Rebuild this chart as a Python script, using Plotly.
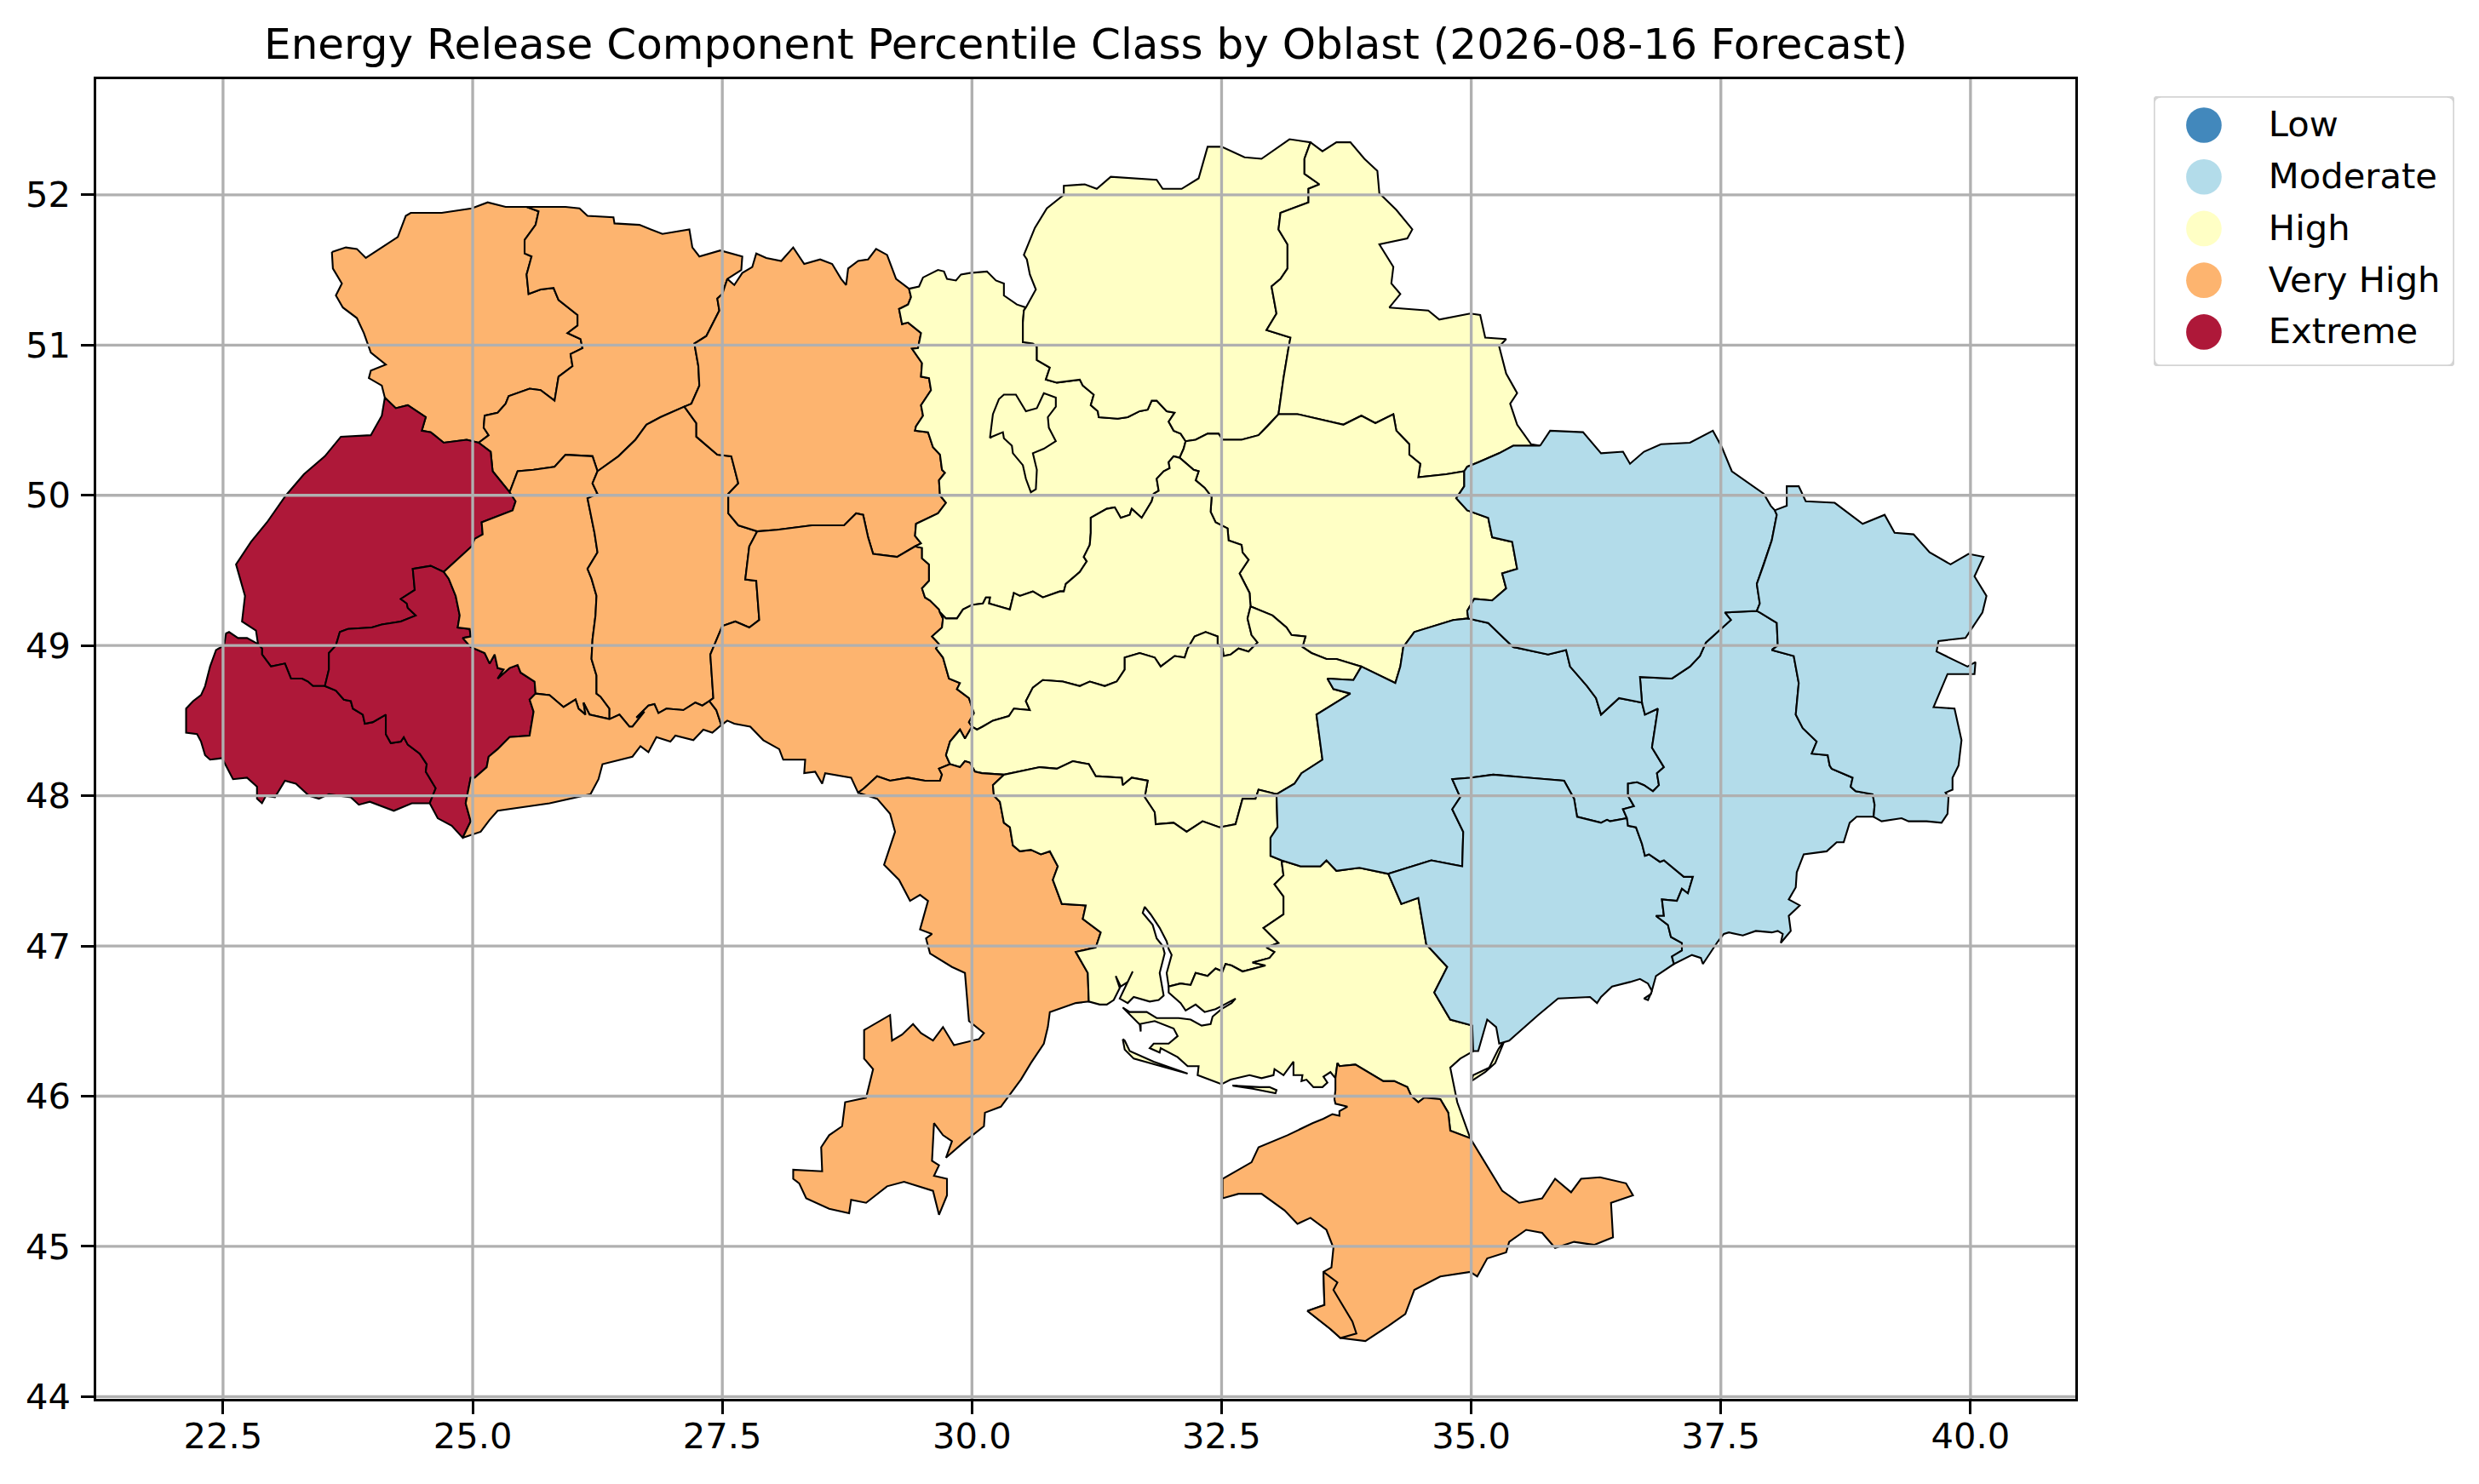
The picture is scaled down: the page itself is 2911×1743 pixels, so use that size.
#!/usr/bin/env python3
"""
Choropleth of Energy Release Component percentile class by Ukrainian oblast.
Boundaries are read off the source picture, as shared lon/lat arcs.
"""

import plotly.graph_objects as go

title = "Energy Release Component Percentile Class by Oblast (2026-08-16 Forecast)"
classes = ["Low", "Moderate", "High", "Very High", "Extreme"]
class_colors = ["#4288bc", "#b3dcea", "#ffffc5", "#fdb46f", "#ae1839"]
x_ticks = [22.5, 25.0, 27.5, 30.0, 32.5, 35.0, 37.5, 40.0]
x_labels = ["22.5", "25.0", "27.5", "30.0", "32.5", "35.0", "37.5", "40.0"]
y_ticks = [44, 45, 46, 47, 48, 49, 50, 51, 52]
y_labels = ["44", "45", "46", "47", "48", "49", "50", "51", "52"]

# Boundary arcs (lon, lat)
volyn_n = [(23.59,51.62),(23.73,51.65),(23.84,51.64),(23.93,51.58),(24.09,51.65),(24.25,51.72),(24.33,51.86),(24.38,51.88),(24.69,51.88),(24.99,51.91),(25.15,51.95),(25.33,51.92),(25.54,51.92)]
volyn_rivne = [(25.54,51.92),(25.66,51.89),(25.63,51.80),(25.52,51.70),(25.52,51.61),(25.59,51.59),(25.54,51.47),(25.56,51.34),(25.68,51.37),(25.81,51.38),(25.86,51.30),(26.05,51.20),(26.05,51.13),(25.95,51.08),(26.08,51.04),(26.10,50.98),(25.98,50.94),(26.00,50.86),(25.86,50.79),(25.82,50.63),(25.68,50.70),(25.57,50.71),(25.36,50.66),(25.33,50.61),(25.25,50.55),(25.12,50.53),(25.11,50.45),(25.16,50.40),(25.06,50.35)]
volyn_lviv = [(25.06,50.35),(24.94,50.37),(24.71,50.35),(24.58,50.42),(24.49,50.43),(24.53,50.52),(24.35,50.60),(24.23,50.58),(24.12,50.65)]
volyn_w = [(24.12,50.65),(24.09,50.73),(23.96,50.78),(23.98,50.83),(24.13,50.87),(23.98,50.95),(23.91,51.08),(23.84,51.18),(23.70,51.25),(23.63,51.33),(23.69,51.41),(23.60,51.51),(23.59,51.62)]
rivne_n = [(25.54,51.92),(25.75,51.92),(25.93,51.92),(26.07,51.91),(26.15,51.86),(26.41,51.85),(26.42,51.81),(26.67,51.80),(26.90,51.74),(27.17,51.77),(27.20,51.65),(27.27,51.59),(27.48,51.63),(27.70,51.59),(27.69,51.50),(27.55,51.44)]
rivne_zhyt = [(27.55,51.44),(27.50,51.34),(27.45,51.31),(27.47,51.23),(27.34,51.06),(27.22,51.01),(27.26,50.86),(27.27,50.73),(27.19,50.61),(27.12,50.59)]
rivne_khm = [(26.25,50.16),(26.46,50.26),(26.63,50.37),(26.74,50.47),(26.88,50.52),(27.12,50.59)]
lviv_rivne = [(25.06,50.35),(25.18,50.29),(25.20,50.16),(25.37,50.02)]
tern_rivne = [(25.37,50.02),(25.45,50.16),(25.61,50.17),(25.82,50.19),(25.93,50.27),(26.20,50.26),(26.25,50.16)]
tern_lviv = [(25.37,50.02),(25.43,49.96),(25.40,49.90),(25.09,49.82),(25.10,49.74),(25.02,49.71),(24.99,49.66),(24.71,49.49)]
lviv_w = [(24.12,50.65),(24.09,50.53),(23.98,50.40),(23.68,50.39),(23.52,50.26),(23.31,50.14),(23.13,50.00),(22.94,49.82),(22.78,49.69),(22.63,49.54),(22.72,49.33),(22.69,49.16),(22.83,49.10),(22.85,49.01)]
lviv_zak = [(22.85,49.01),(22.89,48.98),(22.89,48.94),(22.98,48.86),(23.12,48.88),(23.18,48.78),(23.29,48.78),(23.35,48.76),(23.40,48.73),(23.52,48.73)]
lviv_ivano = [(24.71,49.49),(24.58,49.53),(24.40,49.51),(24.41,49.445),(24.42,49.37),(24.28,49.31),(24.34,49.28),(24.35,49.25),(24.43,49.20),(24.28,49.16),(24.09,49.14),(23.99,49.12),(23.75,49.11),(23.67,49.09),(23.63,49.00),(23.56,48.95),(23.56,48.84),(23.52,48.73)]
ivano_zak = [(23.52,48.73),(23.63,48.70),(23.71,48.64),(23.78,48.63),(23.80,48.58),(23.90,48.54),(23.92,48.48),(24.00,48.49),(24.13,48.54),(24.13,48.41),(24.18,48.35),(24.28,48.36),(24.31,48.39),(24.35,48.34),(24.47,48.28),(24.54,48.21),(24.53,48.16),(24.63,48.05),(24.57,47.95)]
zak_outer = [(22.85,49.01),(22.74,49.05),(22.65,49.05),(22.56,49.09),(22.53,49.08),(22.51,49.00),(22.43,48.97),(22.37,48.86),(22.32,48.73),(22.28,48.67),(22.20,48.63),(22.13,48.58),(22.13,48.42),(22.24,48.41),(22.28,48.36),(22.32,48.27),(22.37,48.24),(22.49,48.25),(22.60,48.11),(22.74,48.12),(22.84,48.06),(22.84,47.98),(22.89,47.95),(22.93,48.00),(23.02,47.99),(23.12,48.10),(23.23,48.08),(23.36,48.00),(23.46,47.98),(23.56,48.01),(23.78,47.99),(23.86,47.94),(23.97,47.96),(24.21,47.90),(24.39,47.95),(24.57,47.95)]
ivano_s = [(24.57,47.95),(24.65,47.85),(24.79,47.80),(24.90,47.72)]
ivano_chern = [(24.90,47.72),(24.98,47.83),(24.93,47.95),(24.98,48.12),(25.02,48.12),(25.14,48.19),(25.16,48.26),(25.25,48.31),(25.37,48.39),(25.57,48.40),(25.61,48.56),(25.57,48.64),(25.63,48.68)]
tern_ivano = [(24.71,49.49),(24.76,49.445),(24.83,49.33),(24.87,49.20),(24.85,49.12),(24.97,49.11),(24.98,49.06),(24.90,49.05),(24.98,48.99),(25.12,48.95),(25.17,48.88),(25.22,48.94),(25.25,48.85),(25.31,48.84),(25.25,48.78),(25.37,48.85),(25.45,48.87),(25.48,48.82),(25.62,48.76),(25.63,48.68)]
tern_chern = [(25.63,48.68),(25.77,48.67),(25.91,48.59),(26.03,48.64),(26.06,48.58),(26.13,48.54),(26.11,48.62),(26.17,48.54),(26.37,48.51)]
khm_chern = [(26.37,48.51),(26.47,48.54),(26.57,48.46),(26.60,48.46),(26.72,48.56),(26.64,48.52),(26.76,48.60),(26.82,48.61),(26.86,48.55),(26.94,48.58),(27.11,48.57),(27.23,48.62),(27.30,48.60),(27.37,48.63)]
chern_vinn = [(27.37,48.63),(27.44,48.57),(27.49,48.47)]
chern_s = [(27.49,48.47),(27.40,48.42),(27.31,48.44),(27.21,48.37),(27.03,48.40),(26.98,48.36),(26.84,48.39),(26.76,48.29),(26.68,48.33),(26.60,48.26),(26.30,48.21),(26.26,48.11),(26.18,48.01),(25.77,47.95),(25.25,47.90),(25.17,47.84),(25.08,47.76),(24.90,47.72)]
tern_khm = [(26.37,48.51),(26.37,48.58),(26.28,48.66),(26.24,48.68),(26.24,48.80),(26.19,48.91),(26.20,49.04),(26.23,49.20),(26.24,49.33),(26.19,49.445),(26.15,49.51),(26.25,49.62),(26.22,49.75),(26.15,49.98),(26.25,50.01),(26.20,50.08),(26.25,50.16)]
zhyt_khm = [(27.12,50.59),(27.24,50.48),(27.24,50.39),(27.45,50.27),(27.59,50.26),(27.66,50.08),(27.56,50.01),(27.56,49.88),(27.66,49.80),(27.85,49.76)]
khm_vinn = [(27.85,49.76),(27.77,49.66),(27.73,49.44),(27.84,49.43),(27.87,49.17),(27.77,49.12),(27.63,49.16),(27.50,49.13),(27.38,48.94),(27.41,48.65),(27.37,48.63)]
zhyt_n = [(27.55,51.44),(27.62,51.40),(27.70,51.48),(27.80,51.52),(27.84,51.61),(27.94,51.58),(28.09,51.56),(28.21,51.65),(28.32,51.54),(28.48,51.57),(28.60,51.54),(28.69,51.44),(28.74,51.40),(28.76,51.51),(28.86,51.56),(28.96,51.57),(29.04,51.64),(29.15,51.60),(29.24,51.44),(29.37,51.375)]
zhyt_kyiv = [(29.37,51.375),(29.39,51.32),(29.36,51.27),(29.27,51.24),(29.30,51.14),(29.36,51.15),(29.49,51.08),(29.46,50.98),(29.40,50.975),(29.50,50.88),(29.49,50.79),(29.57,50.78),(29.59,50.70),(29.49,50.60),(29.51,50.53),(29.44,50.46),(29.43,50.43),(29.56,50.42),(29.61,50.32),(29.68,50.27),(29.70,50.17),(29.73,50.15),(29.67,50.10),(29.68,50.00),(29.74,49.95),(29.66,49.88),(29.44,49.81),(29.43,49.73),(29.49,49.68),(29.43,49.66)]
zhyt_vinn = [(27.85,49.76),(28.05,49.77),(28.40,49.80),(28.72,49.80),(28.84,49.88),(28.91,49.87),(28.96,49.72),(29.01,49.61),(29.25,49.59),(29.43,49.66)]
kyiv_vinn = [(29.43,49.66),(29.50,49.65),(29.50,49.58),(29.57,49.54),(29.57,49.43),(29.50,49.38),(29.53,49.32),(29.58,49.30),(29.67,49.24),(29.68,49.22)]
vinn_cherk = [(29.68,49.22),(29.71,49.18),(29.70,49.12),(29.60,49.06),(29.67,49.01),(29.64,48.98),(29.71,48.92),(29.77,48.78),(29.88,48.75),(29.85,48.71),(29.97,48.65),(30.02,48.55),(29.97,48.49),(30.00,48.46)]
vinn_kirov = [(30.00,48.46),(29.93,48.38),(29.88,48.44),(29.78,48.36),(29.74,48.27),(29.78,48.21)]
vinn_odesa = [(28.86,48.02),(28.92,48.05),(29.05,48.13),(29.18,48.10),(29.36,48.12),(29.53,48.10),(29.68,48.10),(29.70,48.14),(29.67,48.18),(29.78,48.21)]
vinn_s = [(27.49,48.47),(27.55,48.50),(27.62,48.48),(27.78,48.46),(27.91,48.37),(28.07,48.31),(28.11,48.24),(28.33,48.24),(28.32,48.15),(28.43,48.16),(28.50,48.08),(28.53,48.15),(28.79,48.12),(28.86,48.02)]
kyiv_n = [(29.37,51.375),(29.47,51.39),(29.51,51.45),(29.60,51.48),(29.66,51.50),(29.72,51.49),(29.75,51.44),(29.84,51.43),(29.89,51.47),(29.98,51.48),(30.15,51.49),(30.24,51.43),(30.32,51.41),(30.32,51.33),(30.45,51.27),(30.54,51.25)]
kyiv_chern = [(30.54,51.25),(30.52,51.23),(30.51,51.15),(30.51,51.02),(30.61,51.01),(30.65,50.99),(30.65,50.90),(30.78,50.85),(30.74,50.77),(30.85,50.75),(31.08,50.77),(31.11,50.73),(31.22,50.67),(31.19,50.60),(31.26,50.56),(31.27,50.52),(31.46,50.51),(31.56,50.52),(31.68,50.56),(31.76,50.57),(31.80,50.63),(31.85,50.63),(31.95,50.56),(32.03,50.55),(31.97,50.49),(32.02,50.43),(32.09,50.41),(32.14,50.36)]
kyiv_polt = [(32.08,50.25),(32.12,50.31),(32.14,50.36)]
kyiv_cherk = [(29.68,49.22),(29.74,49.18),(29.85,49.18),(29.91,49.24),(30.00,49.27),(30.11,49.28),(30.14,49.32),(30.18,49.32),(30.17,49.28),(30.37,49.24),(30.38,49.24),(30.42,49.35),(30.48,49.33),(30.61,49.36),(30.71,49.32),(30.88,49.36),(30.92,49.36),(30.94,49.41),(31.08,49.49),(31.15,49.56),(31.12,49.59),(31.18,49.67),(31.19,49.75),(31.19,49.85),(31.35,49.91),(31.43,49.92),(31.49,49.85),(31.58,49.87),(31.60,49.91),(31.70,49.85),(31.80,49.96),(31.82,50.01),(31.87,50.03),(31.85,50.11),(31.92,50.16),(31.98,50.18),(31.97,50.22),(32.02,50.26),(32.08,50.25)]
kyiv_city = [(30.18,50.38),(30.21,50.54),(30.27,50.64),(30.32,50.67),(30.44,50.67),(30.54,50.56),(30.65,50.58),(30.72,50.68),(30.84,50.65),(30.84,50.59),(30.76,50.52),(30.77,50.45),(30.84,50.36),(30.79,50.34),(30.72,50.31),(30.61,50.28),(30.65,50.17),(30.64,50.04),(30.59,50.02),(30.54,50.11),(30.51,50.20),(30.41,50.28),(30.40,50.33),(30.32,50.38),(30.31,50.42),(30.20,50.39),(30.18,50.38)]
chern_out = [(30.54,51.25),(30.64,51.37),(30.58,51.47),(30.55,51.57),(30.52,51.60),(30.63,51.78),(30.75,51.91),(30.92,52.00),(30.92,52.06),(31.13,52.07),(31.25,52.04),(31.39,52.12),(31.85,52.10),(31.91,52.04),(32.10,52.04),(32.27,52.11),(32.36,52.32),(32.50,52.32),(32.73,52.25),(32.90,52.24),(33.18,52.37),(33.39,52.35)]
sumy_out = [(33.39,52.35),(33.51,52.29),(33.65,52.35),(33.79,52.35),(33.93,52.24),(34.06,52.16),(34.08,52.01),(34.25,51.90),(34.41,51.77),(34.36,51.71),(34.08,51.67),(34.22,51.52),(34.20,51.41),(34.29,51.34),(34.18,51.25),(34.57,51.23),(34.68,51.17),(34.99,51.21),(35.09,51.20),(35.14,51.05),(35.35,51.04),(35.28,50.99),(35.35,50.81),(35.46,50.68),(35.39,50.61),(35.46,50.47),(35.60,50.34),(35.69,50.33)]
sumy_chern = [(33.39,52.35),(33.33,52.24),(33.33,52.14),(33.48,52.07),(33.37,52.04),(33.37,51.95),(33.09,51.88),(33.07,51.77),(33.16,51.67),(33.16,51.51),(33.09,51.44),(33.00,51.39),(33.05,51.21),(32.95,51.10),(33.19,51.05),(33.17,50.98),(33.12,50.78),(33.07,50.54)]
chern_polt = [(32.14,50.36),(32.24,50.37),(32.36,50.41),(32.47,50.41),(32.51,50.37),(32.70,50.37),(32.87,50.40),(32.96,50.46),(33.07,50.54)]
sumy_polt = [(33.07,50.54),(33.26,50.54),(33.72,50.47),(33.90,50.53),(34.04,50.48),(34.22,50.54),(34.25,50.43),(34.38,50.34),(34.38,50.27),(34.49,50.21),(34.47,50.12),(34.75,50.14),(34.93,50.16)]
sumy_khar = [(34.93,50.16),(34.96,50.19),(35.07,50.22),(35.28,50.28),(35.42,50.33),(35.69,50.33)]
khar_out = [(35.69,50.33),(35.79,50.43),(36.12,50.42),(36.30,50.28),(36.52,50.29),(36.59,50.21),(36.73,50.29),(36.90,50.34),(37.19,50.35),(37.42,50.43),(37.51,50.32),(37.61,50.16),(37.93,50.01),(38.00,49.93),(38.04,49.90)]
lug_out = [(38.04,49.90),(38.16,49.93),(38.16,50.06),(38.28,50.06),(38.35,49.96),(38.64,49.95),(38.92,49.81),(39.14,49.87),(39.24,49.75),(39.43,49.74),(39.59,49.62),(39.80,49.54),(39.98,49.61),(40.13,49.59),(40.04,49.46),(40.16,49.33),(40.12,49.22),(39.95,49.05),(39.68,49.03),(39.66,48.96),(39.97,48.86),(40.05,48.89),(40.04,48.81),(39.77,48.81),(39.63,48.59),(39.84,48.58),(39.91,48.37),(39.88,48.20),(39.82,48.12),(39.82,48.04),(39.75,48.02),(39.78,47.99),(39.77,47.88),(39.71,47.82),(39.56,47.83),(39.38,47.83),(39.31,47.85),(39.11,47.83),(39.03,47.86)]
khar_lug = [(38.04,49.90),(38.06,49.87),(38.01,49.70),(37.93,49.54),(37.86,49.41),(37.89,49.28),(37.86,49.23)]
khar_don = [(36.71,48.62),(36.69,48.79),(37.01,48.78),(37.19,48.86),(37.29,48.93),(37.35,49.02),(37.60,49.17),(37.54,49.22),(37.86,49.23)]
khar_dnip = [(34.97,49.18),(35.17,49.15),(35.42,48.99),(35.77,48.94),(35.95,48.97),(35.99,48.86),(36.16,48.73),(36.25,48.65),(36.30,48.54),(36.37,48.58),(36.48,48.65),(36.71,48.62)]
polt_khar = [(34.93,50.16),(34.93,50.06),(34.85,49.98),(34.96,49.90),(35.17,49.85),(35.21,49.72),(35.41,49.69),(35.46,49.51),(35.31,49.48),(35.35,49.38),(35.21,49.30),(35.03,49.31),(34.96,49.23),(34.97,49.18)]
polt_dnip = [(34.97,49.18),(34.82,49.17),(34.43,49.09),(34.32,48.99),(34.29,48.86),(34.24,48.75),(33.90,48.86)]
polt_cherk = [(32.08,50.25),(32.22,50.17),(32.27,50.16),(32.24,50.10),(32.33,50.05),(32.40,49.99),(32.39,49.89),(32.44,49.82),(32.56,49.78),(32.57,49.70),(32.70,49.67),(32.71,49.62),(32.77,49.57),(32.68,49.48),(32.78,49.35),(32.79,49.26)]
polt_kirov = [(32.79,49.26),(33.01,49.20),(33.15,49.12),(33.20,49.07),(33.34,49.06),(33.31,48.99),(33.40,48.95),(33.55,48.91),(33.65,48.91),(33.90,48.86)]
cherk_kirov = [(32.79,49.26),(32.76,49.18),(32.80,49.07),(32.86,49.02),(32.77,48.96),(32.67,48.98),(32.59,48.94),(32.52,48.93),(32.51,48.98),(32.46,49.01),(32.46,49.06),(32.34,49.09),(32.23,49.06),(32.16,48.98),(32.13,48.92),(32.03,48.93),(31.89,48.86),(31.83,48.92),(31.68,48.95),(31.53,48.92),(31.53,48.84),(31.45,48.76),(31.33,48.73),(31.18,48.76),(31.08,48.73),(30.91,48.76),(30.71,48.77),(30.61,48.72),(30.54,48.63),(30.58,48.57),(30.42,48.58),(30.37,48.53),(30.21,48.50),(30.11,48.46),(30.05,48.44),(30.00,48.46)]
kirov_dnip = [(33.90,48.86),(33.82,48.77),(33.56,48.78),(33.62,48.71),(33.79,48.68),(33.45,48.54),(33.51,48.24),(33.30,48.15),(33.23,48.08),(33.05,48.01)]
kirov_myk = [(33.05,48.01),(32.87,48.04),(32.84,47.98),(32.71,47.98),(32.64,47.81),(32.48,47.79),(32.31,47.83),(32.15,47.76),(32.02,47.82),(31.84,47.81),(31.83,47.89),(31.73,47.99),(31.76,48.10),(31.60,48.12),(31.51,48.07),(31.50,48.12),(31.24,48.13),(31.17,48.21),(31.01,48.23),(30.85,48.18),(30.68,48.19),(30.32,48.14)]
odesa_kirov = [(29.78,48.21),(29.88,48.19),(29.93,48.23),(29.98,48.22),(30.03,48.16),(30.10,48.15),(30.32,48.14)]
odesa_myk = [(30.32,48.14),(30.21,48.07),(30.22,48.00),(30.28,47.96),(30.32,47.82),(30.38,47.79),(30.41,47.67),(30.48,47.63),(30.59,47.64),(30.69,47.61),(30.78,47.63),(30.86,47.53),(30.81,47.44),(30.90,47.28),(31.14,47.27),(31.11,47.18),(31.29,47.09),(31.24,46.99),(31.04,46.96),(31.16,46.82),(31.17,46.63)]
odesa_coast = [(31.17,46.63),(31.04,46.62),(30.78,46.56),(30.76,46.46),(30.72,46.35),(30.59,46.22),(30.49,46.11),(30.29,45.93),(30.13,45.89),(30.12,45.80),(29.93,45.70),(29.74,45.59),(29.80,45.70),(29.71,45.74),(29.62,45.82),(29.60,45.57),(29.67,45.54),(29.62,45.47),(29.75,45.45),(29.75,45.34),(29.67,45.21),(29.61,45.37),(29.32,45.43),(29.15,45.40),(28.94,45.29),(28.79,45.31),(28.77,45.22),(28.57,45.25),(28.34,45.32),(28.27,45.42),(28.21,45.45),(28.21,45.51),(28.50,45.50),(28.49,45.66),(28.57,45.74),(28.70,45.80),(28.73,45.96),(28.94,45.99),(29.01,46.18),(28.92,46.25),(28.92,46.44),(29.18,46.54),(29.20,46.37),(29.30,46.41),(29.41,46.48),(29.49,46.42),(29.61,46.37),(29.71,46.46),(29.82,46.34),(30.07,46.38),(30.12,46.42),(29.97,46.50),(29.95,46.66),(29.93,46.82),(29.80,46.86),(29.58,46.95),(29.54,47.05),(29.60,47.08),(29.48,47.11),(29.56,47.30),(29.48,47.34),(29.38,47.30),(29.27,47.44),(29.12,47.54),(29.23,47.76),(29.18,47.88),(29.05,47.98),(28.86,48.02)]
dnip_myk = [(33.05,48.01),(33.06,47.79),(32.99,47.72),(32.99,47.60),(33.10,47.57)]
myk_kher = [(33.10,47.57),(33.12,47.47),(33.03,47.41),(33.12,47.33),(33.12,47.21),(32.92,47.12),(33.07,47.02),(32.95,46.99),(33.03,46.96),(32.98,46.92),(32.81,46.89),(32.94,46.87),(32.71,46.83),(32.60,46.87),(32.54,46.88),(32.51,46.83),(32.44,46.85),(32.36,46.80),(32.24,46.82),(32.19,46.74),(32.09,46.75),(31.97,46.73)]
myk_coast = [(31.97,46.73),(31.95,46.82),(32.00,46.94),(31.97,46.98),(31.95,47.03),(31.88,47.12),(31.79,47.21),(31.73,47.26),(31.71,47.22),(31.81,47.14),(31.85,47.05),(31.91,47.00),(31.93,46.95),(31.88,46.82),(31.92,46.67),(31.87,46.64),(31.78,46.63),(31.62,46.66),(31.56,46.62),(31.48,46.65),(31.61,46.83),(31.56,46.76),(31.49,46.73),(31.44,46.80),(31.48,46.72),(31.42,46.64),(31.35,46.61),(31.28,46.61),(31.17,46.63)]
kher_coast = [(31.97,46.73),(31.97,46.69),(32.09,46.62),(32.14,46.57),(32.24,46.61),(32.33,46.56),(32.44,46.58),(32.50,46.60),(32.64,46.65),(32.60,46.62),(32.50,46.58),(32.41,46.53),(32.39,46.48),(32.30,46.47),(32.19,46.51),(32.07,46.52),(31.85,46.52),(31.75,46.56),(31.58,46.56),(31.51,46.59),(31.69,46.47),(31.69,46.43),(31.68,46.48),(31.83,46.50),(32.02,46.45),(32.06,46.40),(31.97,46.35),(31.82,46.35),(31.78,46.32),(31.88,46.29),(31.89,46.32),(32.06,46.26),(32.16,46.20),(32.27,46.20),(32.26,46.14),(32.50,46.08),(32.59,46.11),(32.78,46.14),(32.90,46.12),(33.02,46.14),(33.03,46.18),(33.12,46.14),(33.22,46.23),(33.22,46.14),(33.31,46.14),(33.30,46.10),(33.35,46.11),(33.42,46.06),(33.51,46.06),(33.56,46.09),(33.52,46.13),(33.59,46.16),(33.64,46.12),(33.65,46.18),(33.66,46.22)]
kher_crimea = [(33.66,46.22),(33.68,46.20),(33.84,46.21),(34.12,46.10),(34.23,46.10),(34.36,46.06),(34.40,46.00),(34.47,45.96),(34.53,45.99),(34.69,45.98),(34.77,45.89),(34.79,45.77),(34.99,45.72)]
kher_e = [(34.99,45.72),(34.86,45.96),(34.79,46.19),(34.89,46.25),(35.02,46.30)]
kher_arabat = [(35.00,46.10),(35.02,46.14),(35.18,46.19),(35.27,46.31),(35.34,46.38),(35.24,46.22),(35.14,46.16),(35.00,46.10)]
kher_tendra = [(31.51,46.38),(31.53,46.31),(31.62,46.25),(32.16,46.15),(31.82,46.23),(31.58,46.30),(31.53,46.37),(31.51,46.38)]
kher_dzharylhach = [(32.61,46.07),(32.81,46.06),(32.88,46.06),(32.98,46.06),(33.05,46.04),(33.04,46.02),(32.81,46.05),(32.61,46.07)]
crimea_coast = [(33.66,46.22),(33.65,46.18),(33.64,46.12),(33.64,46.04),(33.63,45.98),(33.64,45.95),(33.76,45.93),(33.68,45.90),(33.68,45.87),(33.61,45.88),(33.52,45.85),(33.41,45.82),(33.16,45.74),(32.87,45.66),(32.80,45.56),(32.51,45.45),(32.51,45.32),(32.67,45.35),(32.90,45.35),(33.13,45.24),(33.26,45.15),(33.39,45.19),(33.55,45.11),(33.62,44.99),(33.60,44.86),(33.52,44.83),(33.53,44.61),(33.36,44.57),(33.59,44.45),(33.69,44.39),(33.94,44.37),(34.17,44.47),(34.34,44.55),(34.43,44.71),(34.69,44.80),(34.99,44.83),(35.06,44.80),(35.16,44.92),(35.35,44.96),(35.38,45.03),(35.55,45.11),(35.71,45.09),(35.84,44.99),(36.03,45.03),(36.23,45.01),(36.42,45.06),(36.40,45.29),(36.62,45.34),(36.55,45.42),(36.29,45.46),(36.10,45.45),(36.00,45.36),(35.84,45.45),(35.71,45.32),(35.48,45.29),(35.31,45.37),(34.99,45.72)]
sevastopol = [(33.52,44.83),(33.66,44.76),(33.62,44.71),(33.72,44.60),(33.81,44.50),(33.85,44.42),(33.69,44.39),(33.59,44.45),(33.36,44.57),(33.53,44.61),(33.52,44.83)]
dnip_kher = [(33.10,47.57),(33.29,47.53),(33.49,47.53),(33.55,47.57),(33.65,47.50),(33.88,47.52),(34.17,47.48)]
dnip_zap = [(34.17,47.48),(34.60,47.57),(34.91,47.53),(34.92,47.76),(34.81,47.91),(34.89,47.99),(34.81,48.11),(34.99,48.12),(35.22,48.14),(35.57,48.12),(35.93,48.10),(36.03,47.98),(36.06,47.86),(36.30,47.82),(36.36,47.84),(36.39,47.83),(36.56,47.85)]
don_dnip = [(36.71,48.62),(36.74,48.54),(36.87,48.58),(36.81,48.32),(36.93,48.19),(36.86,48.15),(36.88,48.07),(36.82,48.03),(36.73,48.07),(36.66,48.09),(36.57,48.08),(36.57,48.00),(36.63,47.93),(36.52,47.91),(36.56,47.85)]
zap_kher = [(34.17,47.48),(34.30,47.28),(34.47,47.32),(34.55,47.01),(34.76,46.86),(34.63,46.69),(34.79,46.51),(35.01,46.47),(35.02,46.30)]
zap_coast = [(35.02,46.30),(35.07,46.30),(35.16,46.51),(35.25,46.46),(35.28,46.35),(35.38,46.37),(35.67,46.54),(35.87,46.65),(36.19,46.66),(36.26,46.62),(36.30,46.66),(36.41,46.73),(36.59,46.76),(36.69,46.78),(36.77,46.75),(36.81,46.70),(36.77,46.64),(36.73,46.65),(36.80,46.68),(36.85,46.80),(37.03,46.88)]
don_zap = [(36.56,47.85),(36.57,47.80),(36.65,47.79),(36.71,47.68),(36.74,47.60),(36.78,47.61),(36.89,47.56),(36.93,47.57),(37.13,47.46),(37.22,47.46),(37.17,47.35),(37.11,47.38),(37.06,47.30),(36.91,47.31),(36.93,47.20),(36.85,47.20),(36.97,47.14),(37.00,47.06),(37.11,47.02),(37.11,46.97),(37.01,46.93),(37.03,46.88)]
don_coast = [(37.03,46.88),(37.21,46.94),(37.30,46.92),(37.32,46.88),(37.47,47.03),(37.53,47.08),(37.58,47.09),(37.72,47.07),(37.85,47.10),(38.01,47.09),(38.07,47.10),(38.12,47.08),(38.10,47.02),(38.20,47.10),(38.18,47.20),(38.29,47.27),(38.18,47.31),(38.25,47.39),(38.26,47.49),(38.33,47.61),(38.56,47.63),(38.66,47.69),(38.73,47.69),(38.79,47.82),(38.86,47.86),(39.03,47.86)]
don_lug = [(37.86,49.23),(37.89,49.22),(38.06,49.15),(38.07,49.00),(38.01,48.97),(38.23,48.93),(38.28,48.75),(38.25,48.54),(38.32,48.45),(38.46,48.36),(38.41,48.28),(38.57,48.27),(38.59,48.20),(38.61,48.18),(38.82,48.12),(38.80,48.06),(38.85,48.03),(39.02,48.01),(39.04,47.94),(39.03,47.86)]


def rev(arc):
    return arc[::-1]


# Each oblast: forecast class and its closed outline built from the arcs
oblasts = [
    ("Volyn", "Very High", volyn_n + volyn_rivne + volyn_lviv + volyn_w),
    ("Rivne", "Very High", rivne_n + rivne_zhyt + rev(rivne_khm) + rev(tern_rivne) + rev(lviv_rivne) + rev(volyn_rivne)),
    ("Lviv", "Extreme", lviv_w + lviv_zak + rev(lviv_ivano) + rev(tern_lviv) + rev(lviv_rivne) + volyn_lviv),
    ("Zakarpattia", "Extreme", zak_outer + rev(ivano_zak) + rev(lviv_zak)),
    ("Ivano-Frankivsk", "Extreme", lviv_ivano + ivano_zak + ivano_s + ivano_chern + rev(tern_ivano)),
    ("Ternopil", "Very High", tern_rivne + rev(tern_khm) + rev(tern_chern) + rev(tern_ivano) + rev(tern_lviv)),
    ("Khmelnytskyi", "Very High", rivne_khm + zhyt_khm + khm_vinn + rev(khm_chern) + tern_khm),
    ("Chernivtsi", "Very High", tern_chern + khm_chern + chern_vinn + chern_s + ivano_chern),
    ("Zhytomyr", "Very High", zhyt_n + zhyt_kyiv + rev(zhyt_vinn) + rev(zhyt_khm) + rev(rivne_zhyt)),
    ("Vinnytsia", "Very High", zhyt_vinn + kyiv_vinn + vinn_cherk + vinn_kirov + rev(vinn_odesa) + rev(vinn_s) + rev(chern_vinn) + rev(khm_vinn)),
    ("Kyiv", "High", kyiv_n + kyiv_chern + rev(kyiv_polt) + rev(kyiv_cherk) + rev(kyiv_vinn) + rev(zhyt_kyiv)),
    ("Kyiv City", "High", kyiv_city),
    ("Chernihiv", "High", chern_out + sumy_chern + rev(chern_polt) + rev(kyiv_chern)),
    ("Sumy", "High", sumy_out + rev(sumy_khar) + rev(sumy_polt) + rev(sumy_chern)),
    ("Poltava", "High", chern_polt + sumy_polt + polt_khar + polt_dnip + rev(polt_kirov) + rev(polt_cherk) + kyiv_polt),
    ("Cherkasy", "High", kyiv_cherk + polt_cherk + cherk_kirov + rev(vinn_cherk)),
    ("Kirovohrad", "High", polt_kirov + kirov_dnip + kirov_myk + rev(odesa_kirov) + rev(vinn_kirov) + rev(cherk_kirov)),
    ("Odesa", "Very High", odesa_kirov + odesa_myk + odesa_coast + vinn_odesa),
    ("Mykolaiv", "High", kirov_myk + odesa_myk + rev(myk_coast) + rev(myk_kher) + rev(dnip_myk)),
    ("Kherson", "High", dnip_kher + zap_kher + rev(kher_e) + rev(kher_crimea) + rev(kher_coast) + rev(myk_kher)),
    ("Kherson Arabat", "High", kher_arabat),
    ("Kherson Tendra", "High", kher_tendra),
    ("Kherson Dzharylhach", "High", kher_dzharylhach),
    ("Crimea", "Very High", crimea_coast + rev(kher_crimea)),
    ("Sevastopol", "Very High", sevastopol),
    ("Dnipropetrovsk", "Moderate", polt_dnip + kirov_dnip + dnip_myk + dnip_kher + dnip_zap + rev(don_dnip) + rev(khar_dnip)),
    ("Zaporizhzhia", "Moderate", dnip_zap + don_zap + rev(zap_coast) + rev(zap_kher)),
    ("Donetsk", "Moderate", don_dnip + don_zap + don_coast + rev(don_lug) + rev(khar_don)),
    ("Kharkiv", "Moderate", khar_out + khar_lug + rev(khar_don) + rev(khar_dnip) + rev(polt_khar) + sumy_khar),
    ("Luhansk", "Moderate", lug_out + rev(don_lug) + rev(khar_lug)),
]

color_of = dict(zip(classes, class_colors))

fig = go.Figure()

for name, cls, ring in oblasts:
    fig.add_trace(go.Scatter(
        x=[p[0] for p in ring],
        y=[p[1] for p in ring],
        mode="lines",
        fill="toself",
        fillcolor=color_of[cls],
        line=dict(color="black", width=2.1),
        name=name,
        text=cls,
        hoverinfo="name+text",
        showlegend=False,
    ))

# Legend drawn on its own small axes so the markers can be as big as the original
legend_rows = list(range(len(classes)))
fig.add_trace(go.Scatter(
    x=[0.167] * len(classes), y=legend_rows, xaxis="x2", yaxis="y2",
    mode="markers", marker=dict(size=41.67, color=class_colors),
    hoverinfo="skip", showlegend=False,
))
fig.add_trace(go.Scatter(
    x=[0.382] * len(classes), y=[r + 0.05 for r in legend_rows], xaxis="x2", yaxis="y2",
    mode="text", text=classes, textposition="middle right",
    textfont=dict(size=41.67, color="black"),
    hoverinfo="skip", showlegend=False,
))

# Grid sits over the filled regions in the original
for v in x_ticks:
    fig.add_shape(type="line", xref="x", yref="paper", x0=v, x1=v, y0=0, y1=1,
                  line=dict(color="#b0b0b0", width=3.33), layer="above")
for v in y_ticks:
    fig.add_shape(type="line", xref="x", yref="y", x0=21.23, x1=41.05, y0=v, y1=v,
                  line=dict(color="#b0b0b0", width=3.33), layer="above")

# Rounded legend frame
rx, ry = 0.025, 0.14
x0, x1, y0, y1 = 0.0, 1.0, -0.56, 4.66
frame = (f"M {x0+rx} {y0} L {x1-rx} {y0} Q {x1} {y0} {x1} {y0+ry} L {x1} {y1-ry} "
         f"Q {x1} {y1} {x1-rx} {y1} L {x0+rx} {y1} Q {x0} {y1} {x0} {y1-ry} "
         f"L {x0} {y0+ry} Q {x0} {y0} {x0+rx} {y0} Z")
fig.add_shape(type="path", path=frame, xref="x2", yref="y2",
              line=dict(color="#d4d4d4", width=3.33), layer="below")

# The page keeps an 8px body margin, so everything is placed 8px up and left
W, H = 2903, 1735
L, R, T, B = 105, 2429, 85, 1635
plot_w = W - L
plot_h = B - T

fig.update_layout(
    width=W,
    height=H,
    autosize=False,
    paper_bgcolor="white",
    plot_bgcolor="white",
    font=dict(family="DejaVu Sans", size=41.67, color="black"),
    margin=dict(l=L, r=0, t=T, b=H - B, pad=0),
    title=dict(text=title, font=dict(size=50), xref="container", yref="container",
               x=(L + R) / 2 / W, y=1 - 43 / H, xanchor="center", yanchor="middle"),
    showlegend=False,
    xaxis=dict(
        domain=[0, (R - L) / plot_w], range=[21.23, 41.05],
        tickmode="array", tickvals=x_ticks, ticktext=x_labels,
        ticks="outside", ticklen=14.6, tickwidth=3.33, tickcolor="black",
        showline=True, linecolor="black", linewidth=3.33, mirror=True,
        showgrid=False, zeroline=False, ticklabelstandoff=-10,
    ),
    yaxis=dict(
        range=[43.985, 52.77],
        tickmode="array", tickvals=y_ticks, ticktext=y_labels,
        ticks="outside", ticklen=14.6, tickwidth=3.33, tickcolor="black",
        showline=True, linecolor="black", linewidth=3.33, mirror=True,
        showgrid=False, zeroline=False, ticklabelstandoff=4,
    ),
    xaxis2=dict(
        domain=[(2521 - L) / plot_w, (2874 - L) / plot_w], range=[0, 1],
        anchor="y2", visible=False, fixedrange=True,
    ),
    yaxis2=dict(
        domain=[(B - 422) / plot_h, (B - 105) / plot_h], range=[4.66, -0.56],
        anchor="x2", visible=False, fixedrange=True,
    ),
)

fig.write_html("out.html")
